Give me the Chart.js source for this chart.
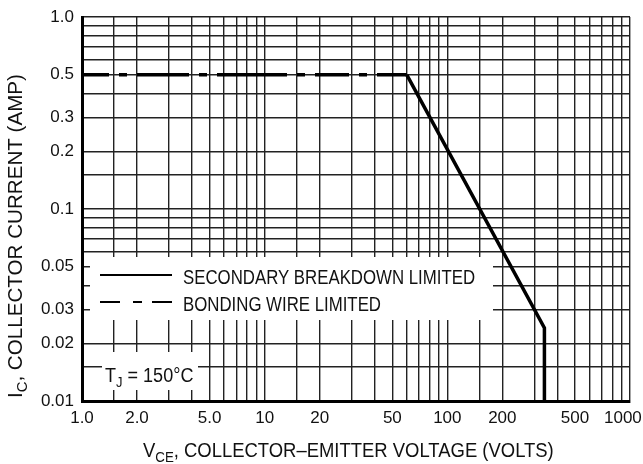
<!DOCTYPE html>
<html>
<head>
<meta charset="utf-8">
<script src="https://cdn.jsdelivr.net/npm/chart.js@4.4.1/dist/chart.umd.min.js"></script>
<style>
  body { margin: 0; background: #fff; }
  #wrap { width: 643px; height: 464px; }
</style>
</head>
<body>
<div id="wrap"><canvas id="soa"></canvas></div>
<script>
// Safe operating area
const bondV = [1, 60];
const bondI = [0.5, 0.5];
const sbV = [60, 340, 340];
const sbI = [0.5, 0.024, 0.01];

const seriesNames = ['SECONDARY BREAKDOWN LIMITED', 'BONDING WIRE LIMITED'];

// grid lines and labelled ticks
const xGrid = [1, 1.5, 2, 3, 4, 5, 6, 7, 8, 9, 10, 15, 20, 30, 40, 50, 60, 70, 80, 90,
               100, 150, 200, 300, 400, 500, 600, 700, 800, 900, 1000];
const xTickValues = [1, 2, 5, 10, 20, 50, 100, 200, 500, 1000];
const xTickLabels = ['1.0', '2.0', '5.0', '10', '20', '50', '100', '200', '500', '1000   '];
const yGrid = [0.01, 0.015, 0.02, 0.03, 0.04, 0.05, 0.06, 0.07, 0.08, 0.09,
               0.1, 0.15, 0.2, 0.3, 0.4, 0.5, 0.6, 0.7, 0.8, 0.9, 1.0];
const yTickValues = [0.01, 0.02, 0.03, 0.05, 0.1, 0.2, 0.3, 0.5, 1.0];
const yTickLabels = ['0.01', '0.02', '0.03', '0.05', '0.1', '0.2', '0.3', '0.5', '1.0'];

// text with subscripts: [main, sub, main, ...]
const xTitle = ['V', 'CE', ', COLLECTOR\u2013EMITTER VOLTAGE (VOLTS)'];
const yTitle = ['I', 'C', ', COLLECTOR CURRENT (AMP)'];
const tjNote = ['T', 'J', ' = 150\u00b0C'];

const FONT = "'Liberation Sans', Arial, sans-serif";

function zip(xs, ys) {
  const out = [];
  for (let i = 0; i < xs.length; i++) out.push({x: xs[i], y: ys[i]});
  return out;
}

function labelFor(values, labels) {
  return function(v) {
    for (let i = 0; i < values.length; i++) {
      if (Math.abs(values[i] - v) < values[i] * 1e-6) return labels[i];
    }
    return '';
  };
}

// draw text parts with subscripts, squeezed horizontally by sx
function drawParts(ctx, parts, x, y, size, sx) {
  ctx.save();
  ctx.translate(x, y);
  ctx.scale(sx, 1);
  ctx.textBaseline = 'alphabetic';
  ctx.textAlign = 'left';
  let cx = 0;
  parts.forEach((t, i) => {
    const sub = i % 2 === 1;
    const fs = sub ? size * 0.72 : size;
    ctx.font = fs + 'px ' + FONT;
    ctx.fillText(t, cx, sub ? size * 0.26 : 0);
    cx += ctx.measureText(t).width;
  });
  ctx.restore();
}

const overlay = {
  id: 'overlay',
  beforeDatasetsDraw(chart) {
    const ctx = chart.ctx;
    ctx.save();
    ctx.fillStyle = '#fff';
    ctx.fillRect(90, 257, 403, 63);   // legend box
    ctx.fillRect(102, 352, 96, 38);   // TJ note box
    ctx.restore();
  },
  afterDraw(chart) {
    const ctx = chart.ctx;
    ctx.save();
    ctx.fillStyle = '#111';
    ctx.strokeStyle = '#000';
    ctx.lineWidth = 2;
    // legend samples
    ctx.beginPath();
    ctx.moveTo(100, 275); ctx.lineTo(172, 275);
    ctx.stroke();
    ctx.setLineDash([20, 13, 9, 10]);
    ctx.beginPath();
    ctx.moveTo(100, 302); ctx.lineTo(172, 302);
    ctx.stroke();
    ctx.setLineDash([]);
    drawParts(ctx, [chart.data.datasets[0].label], 183, 284, 20.5, 0.82);
    drawParts(ctx, [chart.data.datasets[1].label], 183, 311, 20.5, 0.82);
    drawParts(ctx, tjNote, 105, 381.5, 20.5, 0.88);
    drawParts(ctx, xTitle, 143, 456.5, 20.5, 0.9);
    ctx.save();
    ctx.translate(22, 398);
    ctx.rotate(-Math.PI / 2);
    drawParts(ctx, yTitle, 0, 0, 20, 1.03);
    ctx.restore();
    ctx.restore();
  }
};

const ctx = document.getElementById('soa');
new Chart(ctx, {
  type: 'line',
  data: {
    datasets: [{
      label: seriesNames[0],
      data: zip(sbV, sbI),
      borderColor: '#000',
      borderWidth: 3.5,
      pointRadius: 0,
      tension: 0,
      borderJoinStyle: 'miter',
      clip: false
    }, {
      label: seriesNames[1],
      data: zip(bondV, bondI),
      borderColor: '#000',
      borderWidth: 3.5,
      pointRadius: 0,
      borderDash: [27, 10, 8, 10, 52, 10, 8, 10, 70, 10, 8, 10, 34, 10, 8, 10, 40, 10],
      clip: false
    }]
  },
  options: {
    responsive: true,
    maintainAspectRatio: false,
    animation: false,
    layout: { padding: { left: 0, top: 17, right: 13, bottom: 0 } },
    plugins: { legend: { display: false }, tooltip: { enabled: false } },
    scales: {
      x: {
        type: 'logarithmic',
        min: 1,
        max: 1000,
        afterBuildTicks(scale) { scale.ticks = xGrid.map(v => ({value: v})); },
        afterFit(scale) { scale.height = 63; scale.paddingLeft = 0; scale.paddingRight = 0; },
        grid: { color: '#222', lineWidth: 1.4, drawTicks: false },
        border: { display: true, color: '#000', width: 3 },
        ticks: {
          autoSkip: false, maxRotation: 0, padding: 7,
          color: '#111', font: { family: FONT, size: 17 },
          callback: labelFor(xTickValues, xTickLabels)
        }
      },
      y: {
        type: 'logarithmic',
        min: 0.01,
        max: 1.0,
        afterBuildTicks(scale) { scale.ticks = yGrid.map(v => ({value: v})); },
        afterFit(scale) { scale.width = 82; scale.paddingTop = 0; scale.paddingBottom = 0; },
        grid: { color: '#222', lineWidth: 1.4, drawTicks: false },
        border: { display: true, color: '#000', width: 3 },
        ticks: {
          autoSkip: false, padding: 8,
          color: '#111', font: { family: FONT, size: 17 },
          callback: labelFor(yTickValues, yTickLabels)
        }
      }
    }
  },
  plugins: [overlay]
});
</script>
</body>
</html>
